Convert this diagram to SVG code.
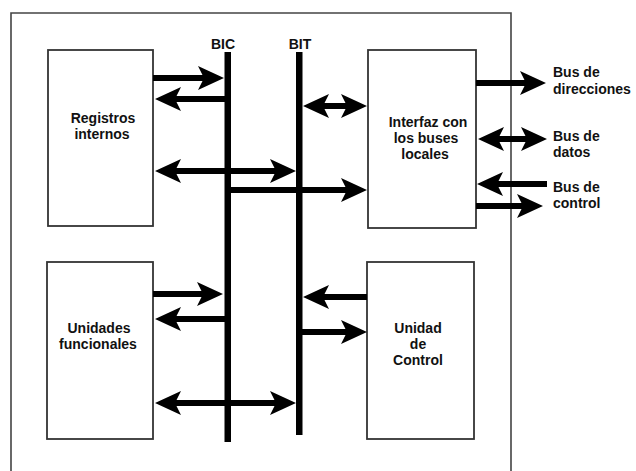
<svg xmlns="http://www.w3.org/2000/svg" width="636" height="471" viewBox="0 0 636 471">
<style>
  .box { fill: #ffffff; stroke: #333333; stroke-width: 1.8; }
  .frame { fill: none; stroke: #444444; stroke-width: 1.6; }
  .bus { fill: #000000; }
  .lbl { font-family: "Liberation Sans", Arial, sans-serif; font-weight: bold; font-size: 14px; fill: #111111; }
  .c { text-anchor: middle; }
  .shaft { stroke: #000000; stroke-width: 6; fill: none; }
  .one { marker-end: url(#head); }
  .two { marker-start: url(#head); marker-end: url(#head); }
</style>
<defs>
  <marker id="head" markerUnits="userSpaceOnUse" viewBox="0 -13 28 26" markerWidth="28" markerHeight="26" refX="12" refY="0" orient="auto-start-reverse">
    <path d="M0,-12 L26,0 L0,12 L6,0 Z" fill="#000000"/>
  </marker>
</defs>
<rect width="636" height="471" fill="#ffffff"/>
<path class="frame" d="M11,480 V13 H511 V480"/>

<g id="registros">
  <rect class="box" x="48" y="50" width="105" height="176"/>
  <text class="lbl c" x="103" y="122.5">Registros</text>
  <text class="lbl c" x="102" y="138.5">internos</text>
</g>
<g id="unidades">
  <rect class="box" x="47" y="262" width="106" height="177"/>
  <text class="lbl c" x="99" y="332.5">Unidades</text>
  <text class="lbl c" x="98" y="348.5">funcionales</text>
</g>
<g id="interfaz">
  <rect class="box" x="368" y="50" width="108" height="178"/>
  <text class="lbl c" x="428" y="127">Interfaz con</text>
  <text class="lbl c" x="426" y="143">los buses</text>
  <text class="lbl c" x="425" y="159">locales</text>
</g>
<g id="control">
  <rect class="box" x="367" y="262" width="107" height="177"/>
  <text class="lbl c" x="418" y="333">Unidad</text>
  <text class="lbl c" x="418" y="349">de</text>
  <text class="lbl c" x="418" y="365">Control</text>
</g>
<g id="bic">
  <rect class="bus" x="224.5" y="52" width="6.5" height="390"/>
  <text class="lbl c" x="223" y="49">BIC</text>
</g>
<g id="bit">
  <rect class="bus" x="296" y="52" width="6.5" height="383"/>
  <text class="lbl c" x="300" y="49">BIT</text>
</g>
<g id="ext-labels">
  <text class="lbl" x="553" y="77">Bus de</text>
  <text class="lbl" x="553" y="94">direcciones</text>
  <text class="lbl" x="553" y="141">Bus de</text>
  <text class="lbl" x="553" y="157">datos</text>
  <text class="lbl" x="553" y="191.5">Bus de</text>
  <text class="lbl" x="553" y="207.5">control</text>
</g>

<g id="connectors">
  <line class="shaft one" x1="153" y1="78" x2="210" y2="78"/>
  <line class="shaft one" x1="225" y1="99" x2="169" y2="99"/>
  <line class="shaft two" x1="169" y1="171" x2="282" y2="171"/>
  <line class="shaft one" x1="231" y1="190" x2="353" y2="190"/>
  <line class="shaft two" x1="317" y1="106" x2="353" y2="106"/>
  <line class="shaft one" x1="476" y1="83" x2="532" y2="83"/>
  <line class="shaft two" x1="492" y1="139" x2="533" y2="139"/>
  <line class="shaft one" x1="547" y1="184" x2="491" y2="184"/>
  <line class="shaft one" x1="476" y1="206" x2="529" y2="206"/>
  <line class="shaft one" x1="153" y1="294" x2="209" y2="294"/>
  <line class="shaft one" x1="225" y1="319" x2="169" y2="319"/>
  <line class="shaft two" x1="169" y1="403" x2="282" y2="403"/>
  <line class="shaft one" x1="367" y1="297" x2="317" y2="297"/>
  <line class="shaft one" x1="302" y1="332" x2="353" y2="332"/>
</g>
</svg>
